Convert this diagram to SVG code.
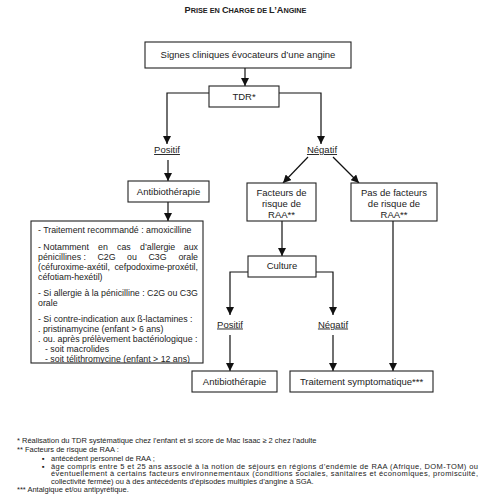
<svg xmlns="http://www.w3.org/2000/svg" width="495" height="500" viewBox="0 0 495 500">
<defs>
<marker id="ah" markerWidth="8" markerHeight="8" refX="8" refY="4" orient="auto" markerUnits="userSpaceOnUse">
<path d="M0,0 L8,4 L0,8 z" fill="#111"/>
</marker>
<clipPath id="bigclip"><rect x="31" y="221" width="172" height="142"/></clipPath>
<style>
.box{fill:#fff;stroke:#222;stroke-width:1.1}
.c{fill:none;stroke:#111;stroke-width:1.2;marker-end:url(#ah)}
text{font-family:"Liberation Sans",Arial,sans-serif;fill:#222}
.l{font-size:9.5px;text-anchor:middle}
.u{text-decoration:underline}
.s{font-size:8.8px}
.f{font-size:7.5px}
.t{font-size:7.3px;font-weight:bold;text-anchor:middle}
</style>
</defs>
<rect width="495" height="500" fill="#fff"/>
<text class="t" x="245.5" y="13"><tspan font-size="9.2">P</tspan>RISE EN <tspan font-size="9.2">C</tspan>HARGE DE <tspan font-size="9.2">L’A</tspan>NGINE</text>

<g id="connectors">
<path class="c" d="M245,68 V86"/>
<path class="c" d="M209,93 H167 V144"/>
<path class="c" d="M279,93 H321 V144"/>
<path class="c" d="M168,160 V181"/>
<path class="c" d="M168,202 V221"/>
<path class="c" d="M308,157 L283,183"/>
<path class="c" d="M333,157 L359,183"/>
<path class="c" d="M282,221 V256"/>
<path class="c" d="M393,221 V371"/>
<path class="c" d="M248,272 H230 V315"/>
<path class="c" d="M316,272 H333 V315"/>
<path class="c" d="M230,335 V371"/>
<path class="c" d="M333,335 V371"/>
</g>

<g id="signes">
<rect class="box" x="145" y="42" width="206" height="26"/>
<text class="l" x="248" y="58">Signes cliniques évocateurs d’une angine</text>
</g>
<g id="tdr">
<rect class="box" x="209" y="86" width="70" height="21"/>
<text class="l" x="244" y="99.5">TDR*</text>
</g>
<g id="positif1">
<text class="l u" x="167" y="153">Positif</text>
</g>
<g id="negatif1">
<text class="l u" x="322" y="153">Négatif</text>
</g>
<g id="antibio1">
<rect class="box" x="128" y="181" width="81" height="21"/>
<text class="l" x="168.5" y="195">Antibiothérapie</text>
</g>
<g id="traitements">
<rect class="box" x="31" y="221" width="172" height="142"/>
<g clip-path="url(#bigclip)" class="s">
<text x="38" y="233">- Traitement recommandé : amoxicilline</text>
<text y="249.5"><tspan x="38">- Notamment</tspan><tspan x="98">en</tspan><tspan x="117">cas</tspan><tspan x="140">d’allergie</tspan><tspan x="198" text-anchor="end">aux</tspan></text>
<text y="259.5"><tspan x="38">pénicillines :</tspan><tspan x="97.5">C2G</tspan><tspan x="127">ou</tspan><tspan x="148.5">C3G</tspan><tspan x="198" text-anchor="end">orale</tspan></text>
<text y="269.5"><tspan x="38">(céfuroxime-axétil,</tspan><tspan x="198" text-anchor="end">cefpodoxime-proxétil,</tspan></text>
<text x="38" y="279.5">céfotiam-hexétil)</text>
<text x="38" y="295.5">- Si allergie à la pénicilline : C2G ou C3G</text>
<text x="38" y="305.5">orale</text>
<text x="38" y="321.5">- Si contre-indication aux ß-lactamines :</text>
<text x="38" y="331.5">. pristinamycine (enfant &gt; 6 ans)</text>
<text x="38" y="341.5">. ou. après prélèvement bactériologique :</text>
<text x="45" y="351.5">- soit macrolides</text>
<text x="45" y="362">- soit télithromycine (enfant &gt; 12 ans)</text>
</g>
</g>
<g id="facteurs">
<rect class="box" x="247" y="183" width="69" height="38"/>
<text class="l" x="281.5" y="196">Facteurs de</text>
<text class="l" x="281.5" y="207">risque de</text>
<text class="l" x="281.5" y="218">RAA**</text>
</g>
<g id="pasfacteurs">
<rect class="box" x="351" y="183" width="86" height="38"/>
<text class="l" x="394" y="196">Pas de facteurs</text>
<text class="l" x="394" y="207">de risque de</text>
<text class="l" x="394" y="218">RAA**</text>
</g>
<g id="culture">
<rect class="box" x="248" y="256" width="68" height="21"/>
<text class="l" x="282" y="269">Culture</text>
</g>
<g id="positif2">
<text class="l u" x="230" y="327.5">Positif</text>
</g>
<g id="negatif2">
<text class="l u" x="333" y="327.5">Négatif</text>
</g>
<g id="antibio2">
<rect class="box" x="192" y="371" width="85" height="21"/>
<text class="l" x="234.5" y="384.5">Antibiothérapie</text>
</g>
<g id="symptomatique">
<rect class="box" x="290" y="371" width="143" height="21"/>
<text class="l" x="361.5" y="384.5">Traitement symptomatique***</text>
</g>

<g id="footnotes" class="f">
<text x="17" y="443">* Réalisation du TDR systématique chez l’enfant et si score de Mac Isaac ≥ 2 chez l’adulte</text>
<text x="17" y="451.5">** Facteurs de risque de RAA :</text>
<text x="42" y="460.5">▪</text>
<text x="51" y="460.5">antécédent personnel de RAA ;</text>
<text x="42" y="468.5">▪</text>
<text x="51" y="468.5" textLength="427" lengthAdjust="spacing">âge compris entre 5 et 25 ans associé à la notion de séjours en régions d’endémie de RAA (Afrique, DOM-TOM) ou</text>
<text x="51" y="476" textLength="427" lengthAdjust="spacing">éventuellement à certains facteurs environnementaux (conditions sociales, sanitaires et économiques, promiscuité,</text>
<text x="51" y="483.5">collectivité fermée) ou à des antécédents d’épisodes multiples d’angine à SGA.</text>
<text x="17" y="491.5">*** Antalgique et/ou antipyrétique.</text>
</g>
</svg>
